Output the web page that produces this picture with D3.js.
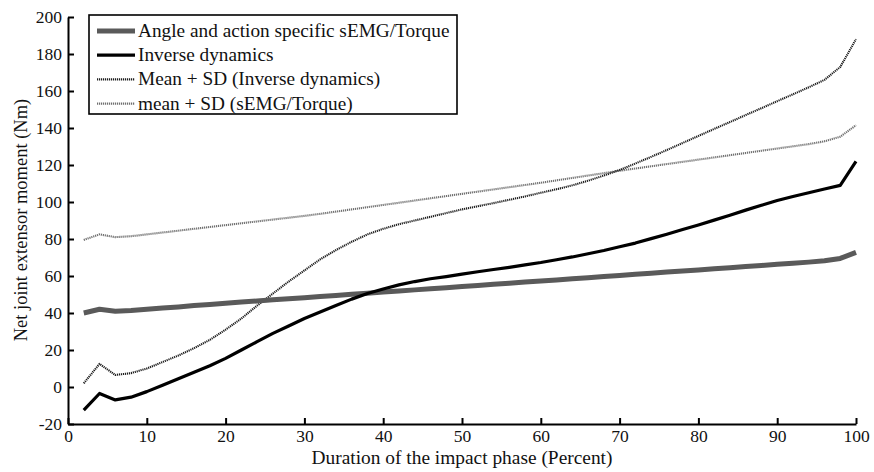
<!DOCTYPE html>
<html>
<head>
<meta charset="utf-8">
<script src="https://cdn.jsdelivr.net/npm/d3@7"></script>
<style>
  html, body { margin: 0; padding: 0; background: #fff; }
  svg { display: block; }
  svg text { font-family: "Liberation Serif", "Times New Roman", Times, serif; fill: #111; }
</style>
</head>
<body>
<svg id="chart" width="874" height="472" font-family="Liberation Serif"></svg>
<script>
// Percent of the impact phase (sample points)
const percent = [2,4,6,8,10,12,14,16,18,20,22,24,26,28,30,32,34,36,38,40,42,44,46,48,50,
                 52,54,56,58,60,62,64,66,68,70,72,74,76,78,80,82,84,86,88,90,92,94,96,98,100];

// Angle and action specific sEMG/Torque estimate (Nm)
const semgTorque = [40,42,41,41.3,42,42.7,43.3,44,44.6,45.3,45.9,46.5,47.1,47.7,48.3,48.9,49.5,50.1,50.7,51.3,
                    51.9,52.5,53.1,53.7,54.3,54.9,55.5,56.1,56.7,57.3,57.9,58.5,59.1,59.7,60.3,60.9,61.5,62.1,62.7,63.3,
                    63.9,64.5,65.1,65.7,66.3,66.9,67.5,68.2,69.5,72.8];

// Inverse dynamics estimate (Nm)
const inverseDyn = [-12.5,-3.5,-7,-5.5,-2.5,1,4.5,8,11.5,15.5,20,24.5,29,33,37,40.5,44,47.5,50.5,53,
                    55.2,57,58.5,59.7,61,62.3,63.5,64.7,66,67.3,68.8,70.3,72,73.8,75.8,77.8,80.2,82.6,85.1,87.6,
                    90.2,92.8,95.6,98.2,100.8,103,105,107,109,122];

// Mean + SD of the inverse dynamics estimate (Nm)
const inverseDynSD = [2,12.5,6.5,7.5,10,13.5,17,21,25.5,31,37,44,50.5,57,63,69,74,78.5,82.5,85.5,
                      88,90,92,94,96,97.7,99.4,101.2,103,105,106.9,109,111.5,114.3,117.3,120.8,124.4,128.1,131.9,135.7,
                      139.5,143.2,147,150.7,154.5,158.2,162,166,173,188];

// Mean + SD of the sEMG/Torque estimate (Nm)
const semgTorqueSD = [79.5,82.5,81,81.5,82.5,83.5,84.5,85.5,86.5,87.5,88.5,89.5,90.5,91.5,92.5,93.6,94.8,96,97.2,98.4,
                      99.6,100.8,102,103.2,104.4,105.6,106.8,108,109.2,110.4,111.7,113,114.3,115.6,116.9,118.1,119.3,120.5,121.7,122.9,
                      124.1,125.3,126.5,127.7,128.9,130.1,131.3,132.8,135.3,141.5];

const xTicks = [0,10,20,30,40,50,60,70,80,90,100];
const yTicks = [-20,0,20,40,60,80,100,120,140,160,180,200];

const seriesNames = ["Angle and action specific sEMG/Torque", "Inverse dynamics",
                     "Mean + SD (Inverse dynamics)", "mean + SD (sEMG/Torque)"];

const svg = d3.select("#chart");
const plotLeft = 68, plotRight = 856, plotTop = 17, plotBottom = 424;
const FONT = "Liberation Serif";
const stretch = 1.06; // slightly wide lettering

const x = d3.scaleLinear().domain([0, 100]).range([plotLeft, plotRight]);
const y = d3.scaleLinear().domain([-20, 200]).range([plotBottom, plotTop]);

// Axes (left and bottom only, ticks pointing inward)
const fmt = d => String(d);
const xAxis = d3.axisBottom(x).tickValues(xTicks).tickFormat(fmt)
  .tickSizeInner(-6).tickSizeOuter(0).tickPadding(6);
const yAxis = d3.axisLeft(y).tickValues(yTicks).tickFormat(fmt)
  .tickSizeInner(-6).tickSizeOuter(0).tickPadding(6);

const gx = svg.append("g").attr("transform", `translate(0,${plotBottom})`).call(xAxis);
const gy = svg.append("g").attr("transform", `translate(${plotLeft},0)`).call(yAxis);
[gx, gy].forEach(g => {
  g.attr("font-family", FONT);
  g.select(".domain").attr("stroke", "#000").attr("stroke-width", 2);
  g.selectAll(".tick line").attr("stroke", "#000").attr("stroke-width", 2);
  g.selectAll(".tick text").attr("font-size", 17.5).attr("fill", "#111");
});

// Axis titles
svg.append("text")
  .attr("transform", `translate(${(plotLeft + plotRight) / 2},464) scale(${stretch},1)`)
  .attr("text-anchor", "middle").attr("font-size", 18.3)
  .text("Duration of the impact phase (Percent)");
svg.append("text")
  .attr("transform", `translate(27,220) rotate(-90)`)
  .attr("text-anchor", "middle").attr("font-size", 18.5)
  .text("Net joint extensor moment (Nm)");

const styles = [
  { data: semgTorque,   stroke: "#5a5a5a", width: 5,   dash: null },
  { data: inverseDyn,   stroke: "#000",    width: 3.2, dash: null },
  { data: inverseDynSD, stroke: "#1e1e1e", width: 2.1, dash: "1.2,0.8" },
  { data: semgTorqueSD, stroke: "#707070", width: 2.1, dash: "1.2,0.8" }
];

const line = d3.line().x((d, i) => x(percent[i])).y(d => y(d));

// Draw order: dotted SD lines first, solid means on top
[3, 2, 0, 1].forEach(k => {
  const s = styles[k];
  svg.append("path")
    .datum(s.data)
    .attr("fill", "none")
    .attr("stroke", s.stroke)
    .attr("stroke-width", s.width)
    .attr("stroke-linejoin", "round")
    .attr("stroke-dasharray", s.dash)
    .attr("d", line);
});

// Legend
const lg = svg.append("g");
lg.append("rect")
  .attr("x", 89).attr("y", 15).attr("width", 368).attr("height", 99)
  .attr("fill", "#fff").attr("stroke", "#000").attr("stroke-width", 1.6);
seriesNames.forEach((name, i) => {
  const cy = 31 + i * 24.2;
  const s = styles[i];
  lg.append("line")
    .attr("x1", 97).attr("x2", 135).attr("y1", cy).attr("y2", cy)
    .attr("stroke", s.stroke).attr("stroke-width", s.width)
    .attr("stroke-dasharray", s.dash);
  lg.append("text")
    .attr("transform", `translate(138,${cy + 6}) scale(${stretch},1)`)
    .attr("font-size", 18.2)
    .text(name);
});
</script>
</body>
</html>
